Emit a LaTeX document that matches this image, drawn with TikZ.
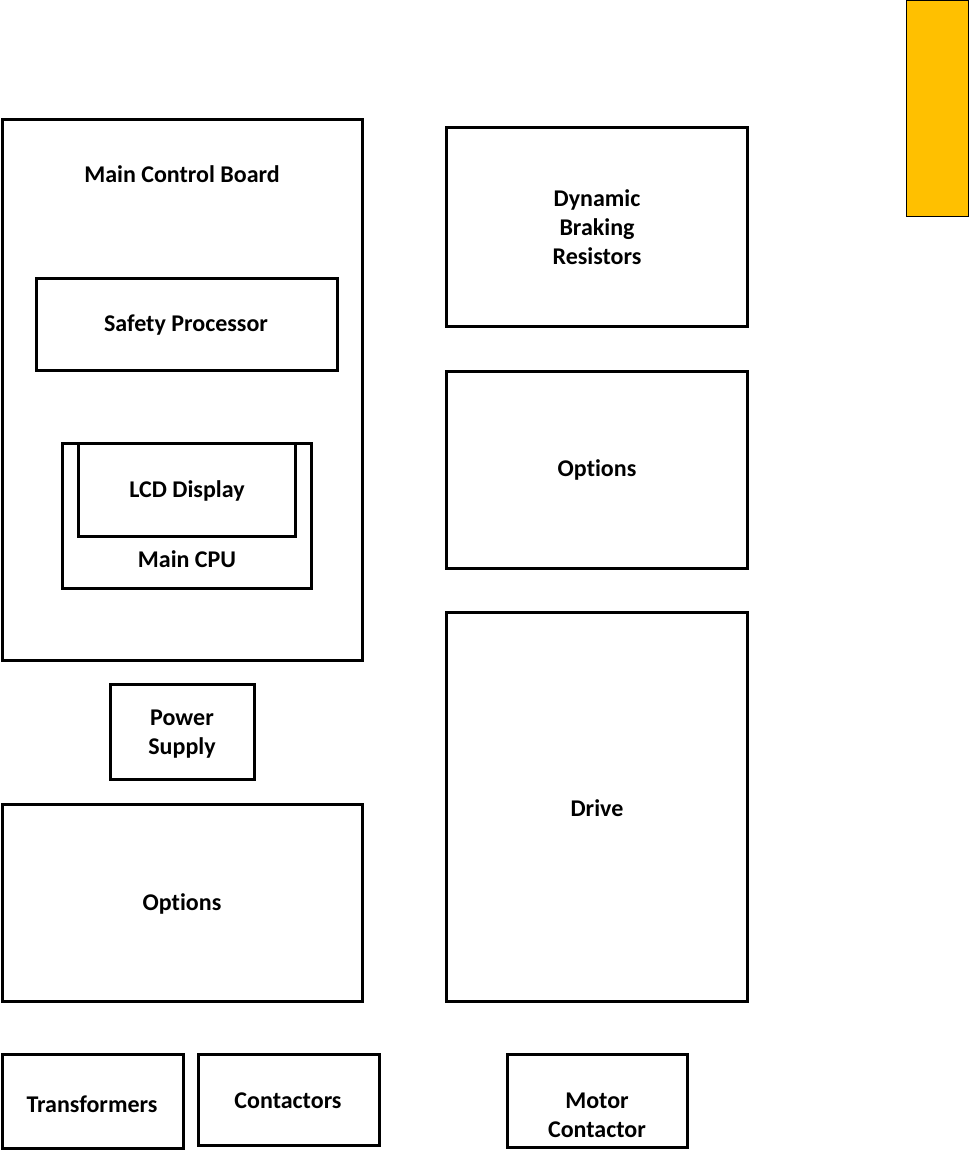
\documentclass[tikz,border=0pt]{standalone}
\usepackage{fontspec}
\setmainfont{Carlito}[Ligatures=NoCommon]
\begin{document}
\begin{tikzpicture}[x=1pt,y=-1pt,
  box/.style={draw=black,line width=3pt,fill=none},
  lbl/.style={font=\bfseries\fontsize{24}{29}\selectfont,align=center,inner sep=0pt}]
\useasboundingbox (0,0) rectangle (969,1155);
\fill[white] (0,0) rectangle (969,1155);
% yellow tab
\draw[fill={rgb,255:red,255;green,192;blue,0},line width=1pt] (906.5,0.5) rectangle (968.5,217) coordinate (tab);
% left column
\draw[box] (2,120) rectangle (362,660) coordinate (mcb);
\node[lbl] (mcbl) at (182,174) {Main Control Board};
\draw[box] (36,279) rectangle (337,370) coordinate (sp);
\node[lbl] (spl) at (186,325) {Safety Processor};
\draw[box] (62,443) rectangle (311,588) coordinate (cpu);
\draw[box] (78,443) rectangle (295,536) coordinate (lcd);
\node[lbl] (lcdl) at (187,491) {LCD Display};
\node[lbl] (cpul) at (187,559) {Main CPU};
\draw[box] (110,684) rectangle (254,779) coordinate (ps);
\node[lbl] (psl) at (182,734) {Power\\Supply};
\draw[box] (2,804) rectangle (362,1001) coordinate (opl);
\node[lbl] (opll) at (182,904) {Options};
\draw[box] (2,1054) rectangle (183,1148) coordinate (tr);
\node[lbl] (trl) at (92,1104) {Transformers};
\draw[box] (198,1054) rectangle (379,1145) coordinate (ct);
\node[lbl] (ctl) at (288,1101) {Contactors};
% right column
\draw[box] (446,128) rectangle (747,326) coordinate (dbr);
\node[lbl] (dbrl) at (597,227) {Dynamic\\Braking\\Resistors};
\draw[box] (446,371) rectangle (747,568) coordinate (opr);
\node[lbl] (oprl) at (597,470) {Options};
\draw[box] (446,612) rectangle (747,1001) coordinate (dr);
\node[lbl] (drl) at (597,808) {Drive};
\draw[box] (507,1054) rectangle (687,1147) coordinate (mc);
\node[lbl] (mcl) at (597,1115) {Motor\\Contactor};
\end{tikzpicture}
\end{document}
